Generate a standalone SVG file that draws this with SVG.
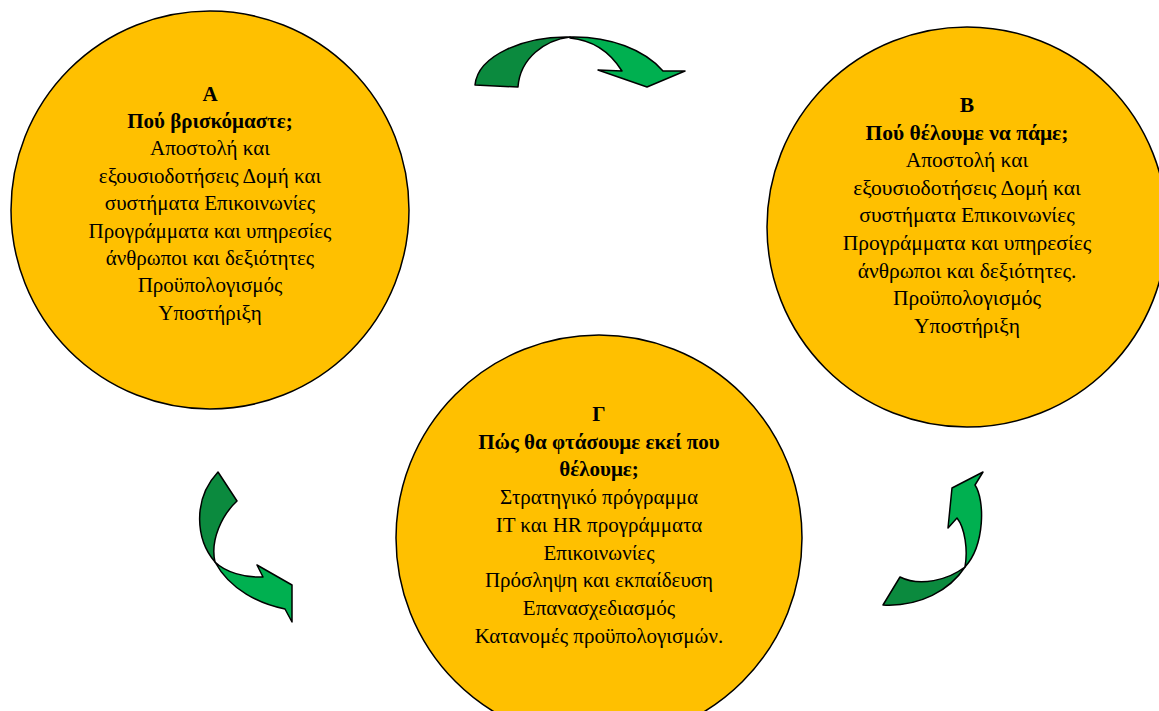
<svg xmlns="http://www.w3.org/2000/svg" width="1159" height="711" viewBox="0 0 1159 711">
<style>
.c{fill:#FFC000;stroke:#000;stroke-width:1.5}
.t{font-family:"Liberation Serif","Times New Roman",serif;font-size:21px;fill:#000;text-anchor:middle}
.tb{font-size:21.5px}
.b{font-weight:bold}
.dk{fill:#0B8A3E;stroke:#000;stroke-width:1.5;stroke-linejoin:round}
.lt{fill:#00B050;stroke:#000;stroke-width:1.5;stroke-linejoin:round}
</style>
<rect width="1159" height="711" fill="#fff"/>
<g id="nodeA">
<circle class="c" cx="210" cy="210" r="199"/>
<text class="t" x="210"><tspan class="b" x="210" y="100.5">Α</tspan><tspan class="b" x="210" y="127.9">Πού βρισκόμαστε;</tspan><tspan x="210" y="155.3">Αποστολή και</tspan><tspan x="210" y="182.7">εξουσιοδοτήσεις Δομή και</tspan><tspan x="210" y="210.1">συστήματα Επικοινωνίες</tspan><tspan x="210" y="237.5">Προγράμματα και υπηρεσίες</tspan><tspan x="210" y="264.9">άνθρωποι και δεξιότητες</tspan><tspan x="210" y="292.3">Προϋπολογισμός</tspan><tspan x="210" y="319.7">Υποστήριξη</tspan></text>
</g>
<g id="nodeB">
<circle class="c" cx="967" cy="227" r="200"/>
<text class="t tb" x="967"><tspan class="b" x="967" y="112">Β</tspan><tspan class="b" x="967" y="139.6">Πού θέλουμε να πάμε;</tspan><tspan x="967" y="167.2">Αποστολή και</tspan><tspan x="967" y="194.8">εξουσιοδοτήσεις Δομή και</tspan><tspan x="967" y="222.4">συστήματα Επικοινωνίες</tspan><tspan x="967" y="250">Προγράμματα και υπηρεσίες</tspan><tspan x="967" y="277.6">άνθρωποι και δεξιότητες.</tspan><tspan x="967" y="305.2">Προϋπολογισμός</tspan><tspan x="967" y="332.8">Υποστήριξη</tspan></text>
</g>
<g id="nodeC">
<circle class="c" cx="599" cy="538" r="203"/>
<text class="t" x="599"><tspan class="b" x="599" y="421">Γ</tspan><tspan class="b" x="599" y="448.7">Πώς θα φτάσουμε εκεί που</tspan><tspan class="b" x="599" y="476.4">θέλουμε;</tspan><tspan x="599" y="504.1">Στρατηγικό πρόγραμμα</tspan><tspan x="599" y="531.8">IT και HR προγράμματα</tspan><tspan x="599" y="559.5">Επικοινωνίες</tspan><tspan x="599" y="587.2">Πρόσληψη και εκπαίδευση</tspan><tspan x="599" y="614.9">Επανασχεδιασμός</tspan><tspan x="599" y="642.6">Κατανομές προϋπολογισμών.</tspan></text>
</g>
<g id="connectors">
<g id="arrowAB">
<path class="dk" d="M475,85 C478,55 525,36 570,37 C545,40 520,58 518,87 Z"/>
<path class="lt" d="M570,37 C610,36 645,50 663,71 L685,71 L647,87 L598,70 L622,71 C610,52 592,40 570,38 Z"/>
</g>
<g id="arrowBC">
<path class="dk" d="M883,605 L900,577 C920,587 948,580 965,567 C950,590 920,607 883,605 Z"/>
<path class="lt" d="M965,567 C968,550 965,528 957,518 L948,528 L952,488 L983,472 L975,485 C985,500 985,545 965,567 Z"/>
</g>
<g id="arrowCA">
<path class="dk" d="M218,472 L237,501 C222,515 210,540 215,562 C196,540 192,500 218,472 Z"/>
<path class="lt" d="M215,562 C225,572 245,578 263,577 L257,565 L292,585 L292,622 L285,609 C260,604 230,590 215,562 Z"/>
</g>
</g>
</svg>
